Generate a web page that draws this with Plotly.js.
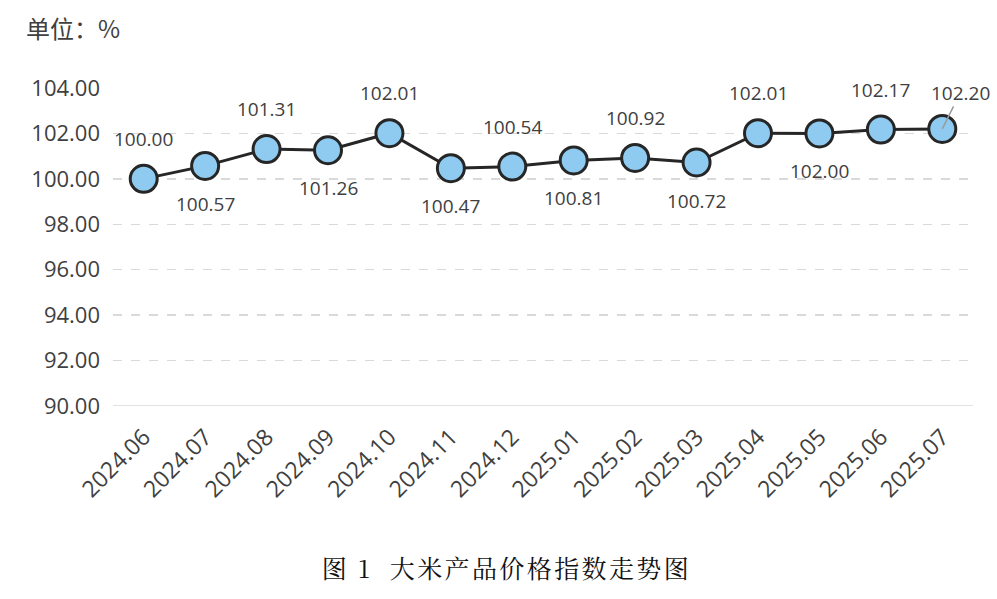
<!DOCTYPE html>
<html><head><meta charset="utf-8">
<script src="https://cdn.plot.ly/plotly-3.0.1.min.js"></script>
<style>body{margin:0;background:#fff}#c{width:997px;height:599px}
g.annotation[data-index="15"] text{letter-spacing:2.4px}</style>
</head><body><div id="c"></div>
<script>
const categories = ["2024.06","2024.07","2024.08","2024.09","2024.10","2024.11","2024.12","2025.01","2025.02","2025.03","2025.04","2025.05","2025.06","2025.07"];
const values = [100.00,100.57,101.31,101.26,102.01,100.47,100.54,100.81,100.92,100.72,102.01,102.00,102.17,102.20];
const labelSide = [1,-1,1,-1,1,-1,1,-1,1,-1,1,-1,1,1];
const yTicks = [90,92,94,96,98,100,102,104];
const xIdx = categories.map((c,i)=>i);

const font = '"Open Sans","Noto Sans CJK SC",sans-serif';
const cjk = '"Noto Sans CJK SC",sans-serif';
const annotations = values.map((v,i)=>{
  const last = i === values.length-1;
  if (last) {
    return {x:xIdx[i], y:v, xref:'x', yref:'y', text:v.toFixed(2),
      showarrow:true, arrowhead:0, arrowwidth:1.5, arrowcolor:'#9a9a9a',
      ax:18, ay:-36, standoff:0, borderpad:0,
      font:{family:font,size:19,color:'#404040'}};
  }
  return {x:xIdx[i], y:v, xref:'x', yref:'y', text:v.toFixed(2), showarrow:false,
    yshift: labelSide[i]>0 ? 40 : -38, font:{family:font,size:19,color:'#404040'}};
});
annotations.push({xref:'paper',yref:'paper',x:-0.1035,y:1.189,xanchor:'left',yanchor:'middle',
  text:'单位：%',showarrow:false,font:{family:cjk,size:24,color:'#404040'}});
annotations.push({xref:'paper',yref:'paper',x:0.458,y:-0.507,xanchor:'center',yanchor:'middle',
  text:'图 1  大米产品价格指数走势图',showarrow:false,
  font:{family:'"Noto Serif CJK SC","SimSun","Noto Sans CJK SC",serif',size:25,color:'#111'}});

const trace = {x:xIdx, y:values, type:'scatter', mode:'lines+markers',
  line:{color:'#262626',width:3},
  marker:{size:27,color:'#8fcbf0',line:{color:'#262626',width:3}},
  hoverinfo:'none', cliponaxis:false};

const layout = {
  width:997,height:599,
  margin:{l:113,r:24,t:88,b:193},
  paper_bgcolor:'#fff',plot_bgcolor:'#fff',
  showlegend:false,
  xaxis:{range:[-0.5,13.5],tickvals:xIdx,ticktext:categories,tickangle:-45,showgrid:false,zeroline:false,showline:false,
    ticks:'',ticklabelstandoff:12,tickfont:{family:font,size:23,color:'#404040'},fixedrange:true},
  yaxis:{range:[90,104],tickvals:yTicks,ticktext:yTicks.map(v=>v.toFixed(2)),
    showgrid:true,gridcolor:'#d9d9d9',griddash:'dash',gridwidth:1.3,zeroline:false,
    showline:false,ticks:'',ticklabelstandoff:12,
    tickfont:{family:font,size:22,color:'#404040'}},
  shapes:[{type:'line',xref:'paper',yref:'y',x0:0,x1:1,y0:90,y1:90,line:{color:'#d9d9d9',width:1.5}}],
  annotations:annotations
};
Plotly.newPlot('c',[trace],layout,{staticPlot:true});
</script></body></html>
